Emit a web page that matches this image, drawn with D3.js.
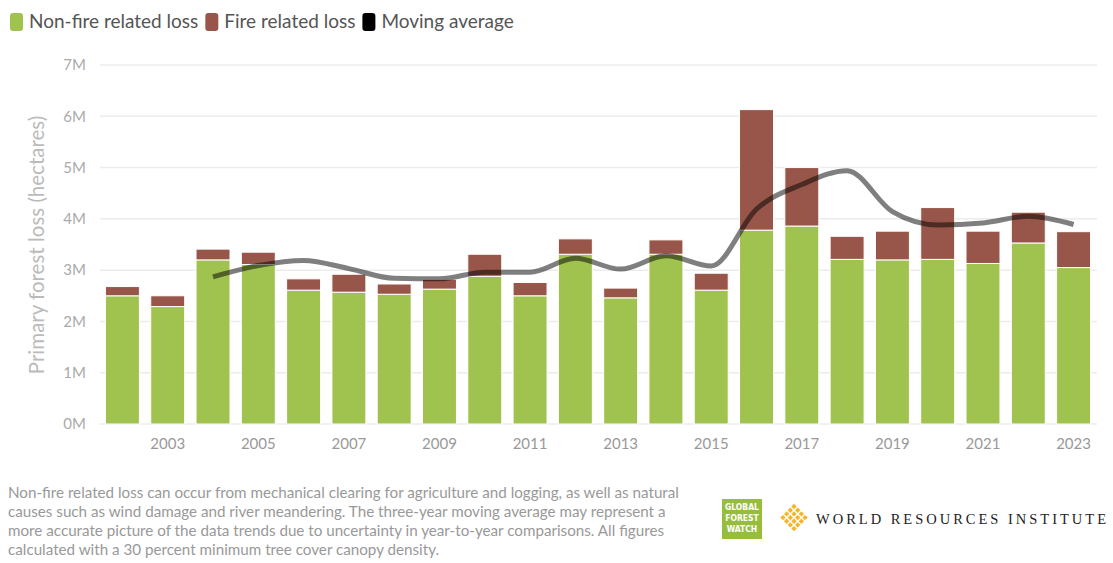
<!DOCTYPE html>
<html>
<head>
<meta charset="utf-8">
<script src="https://cdn.jsdelivr.net/npm/d3@7"></script>
<style>
  body { margin: 0; background: #fff; }
  svg { display: block; font-family: Lato, "Open Sans", sans-serif; }
</style>
</head>
<body>
<div id="chart"></div>
<script>
// years and values (hectares)
var years = d3.range(2002, 2024);
var nonFire = [2.50, 2.29, 3.20, 3.11, 2.61, 2.57, 2.53, 2.63, 2.88, 2.50, 3.31,
               2.46, 3.31, 2.61, 3.78, 3.86, 3.21, 3.20, 3.21, 3.13, 3.53, 3.05].map(function(v) { return v * 1e6; });
var fire = [0.18, 0.21, 0.21, 0.24, 0.22, 0.35, 0.20, 0.19, 0.43, 0.26, 0.30,
            0.19, 0.28, 0.33, 2.35, 1.14, 0.45, 0.56, 1.01, 0.63, 0.60, 0.70].map(function(v) { return v * 1e6; });
// three-year moving average, starts 2004
var avgYears = d3.range(2004, 2024);
var movingAvg = [2.87, 3.09, 3.19, 3.03, 2.84, 2.83, 2.96, 2.96, 3.23, 3.02, 3.28,
                 3.08, 4.19, 4.67, 4.94, 4.14, 3.88, 3.92, 4.05, 3.89].map(function(v) { return v * 1e6; });
var yTicks = [0, 1e6, 2e6, 3e6, 4e6, 5e6, 6e6, 7e6];
var xLabels = years.filter(function(y) { return y % 2 === 1; });

var legendItems = [
  { label: "Non-fire related loss", color: "#a0c34f" },
  { label: "Fire related loss", color: "#98564a" },
  { label: "Moving average", color: "#000" }
];
var footerLines = [
  "Non-fire related loss can occur from mechanical clearing for agriculture and logging, as well as natural",
  "causes such as wind damage and river meandering. The three-year moving average may represent a",
  "more accurate picture of the data trends due to uncertainty in year-to-year comparisons. All figures",
  "calculated with a 30 percent minimum tree cover canopy density."
];

var width = 1113, height = 563;

var svg = d3.select("#chart").append("svg")
  .attr("width", width)
  .attr("height", height);

var x = d3.scaleBand().domain(years).range([100, 1096]).paddingInner(0.25).paddingOuter(0.12);
var y = d3.scaleLinear().domain([0, 7e6]).range([424, 65]);

// gridlines
svg.append("g").selectAll("line")
  .data(yTicks)
  .enter().append("line")
  .attr("x1", 100).attr("x2", 1097)
  .attr("y1", function(d) { return y(d); })
  .attr("y2", function(d) { return y(d); })
  .attr("stroke", "#ececec")
  .attr("stroke-width", 1.5);

// y axis labels
var yAxis = svg.append("g")
  .attr("transform", "translate(86,0)")
  .call(d3.axisLeft(y).tickValues(yTicks).tickSize(0).tickPadding(0)
    .tickFormat(function(d) { return (d / 1e6) + "M"; }));
yAxis.select(".domain").remove();
yAxis.selectAll("text")
  .attr("fill", "#aaa")
  .style("font-size", "15px")
  .style("font-family", "Lato, sans-serif");

svg.append("text")
  .attr("transform", "translate(44,245) rotate(-90)")
  .attr("text-anchor", "middle")
  .attr("fill", "#bbb")
  .style("font-size", "20.5px")
  .text("Primary forest loss (hectares)");

// x axis labels
var xAxis = svg.append("g")
  .attr("transform", "translate(0,435)")
  .call(d3.axisBottom(x).tickValues(xLabels).tickSize(0).tickPadding(0));
xAxis.select(".domain").remove();
xAxis.selectAll("text")
  .attr("fill", "#999")
  .attr("dy", "0.9em")
  .style("font-size", "15px")
  .style("font-family", "Lato, sans-serif");

// stacked bars
var bars = svg.append("g");
bars.selectAll(".nonfire")
  .data(years)
  .enter().append("rect")
  .attr("class", "nonfire")
  .attr("x", function(d) { return x(d); })
  .attr("width", x.bandwidth())
  .attr("y", function(d, i) { return y(nonFire[i]); })
  .attr("height", function(d, i) { return y(0) - y(nonFire[i]); })
  .attr("fill", "#a0c34f")
  .attr("stroke", "#fff")
  .attr("stroke-width", 1);

bars.selectAll(".fire")
  .data(years)
  .enter().append("rect")
  .attr("class", "fire")
  .attr("x", function(d) { return x(d); })
  .attr("width", x.bandwidth())
  .attr("y", function(d, i) { return y(nonFire[i] + fire[i]); })
  .attr("height", function(d, i) { return y(nonFire[i]) - y(nonFire[i] + fire[i]); })
  .attr("fill", "#98564a")
  .attr("stroke", "#fff")
  .attr("stroke-width", 1);

// moving average line
var line = d3.line()
  .x(function(d, i) { return x(avgYears[i]) + x.bandwidth() / 2; })
  .y(function(d) { return y(d); })
  .curve(d3.curveMonotoneX);

svg.append("path")
  .datum(movingAvg)
  .attr("d", line)
  .attr("fill", "none")
  .attr("stroke", "#000")
  .attr("stroke-opacity", 0.5)
  .attr("stroke-width", 5);

// legend
var legend = svg.append("g").attr("transform", "translate(10,13)");
var lx = 0;
legendItems.forEach(function(item) {
  var g = legend.append("g").attr("transform", "translate(" + lx + ",0)");
  g.append("rect")
    .attr("width", 13).attr("height", 18)
    .attr("rx", 3)
    .attr("fill", item.color);
  var t = g.append("text")
    .attr("x", 19).attr("y", 15)
    .attr("fill", "#555")
    .style("font-size", "19px")
    .text(item.label);
  lx += 19 + t.node().getComputedTextLength() + 7;
});

// footer note
svg.append("g").selectAll("text")
  .data(footerLines)
  .enter().append("text")
  .attr("x", 8)
  .attr("y", function(d, i) { return 498 + i * 19; })
  .attr("fill", "#999")
  .style("font-size", "15.2px")
  .text(function(d) { return d; });

// Global Forest Watch badge
var gfw = svg.append("g").attr("transform", "translate(722,499)");
gfw.append("rect").attr("width", 40).attr("height", 40).attr("fill", "#97bd3d");
["GLOBAL", "FOREST", "WATCH"].forEach(function(w, i) {
  gfw.append("text")
    .attr("x", 20).attr("y", 11 + i * 11)
    .attr("text-anchor", "middle")
    .attr("fill", "#fff")
    .style("font-family", "'Liberation Sans Narrow', 'DejaVu Sans Condensed', sans-serif")
    .style("font-weight", "bold")
    .style("font-size", "8.5px")
    .text(w);
});

// WRI mark: lattice of diamonds
var wri = svg.append("g").attr("transform", "translate(794,518) rotate(45)");
d3.range(4).forEach(function(r) {
  d3.range(4).forEach(function(c) {
    wri.append("rect")
      .attr("x", -10 + c * 5.2).attr("y", -10 + r * 5.2)
      .attr("width", 3.8).attr("height", 3.8)
      .attr("fill", "#f5b52a");
  });
});
svg.append("text")
  .attr("x", 816).attr("y", 524)
  .attr("fill", "#222")
  .attr("textLength", 290)
  .attr("lengthAdjust", "spacing")
  .style("font-family", "'Liberation Serif', 'DejaVu Serif', serif")
  .style("font-size", "14.5px")
  .text("WORLD RESOURCES INSTITUTE");
</script>
</body>
</html>
